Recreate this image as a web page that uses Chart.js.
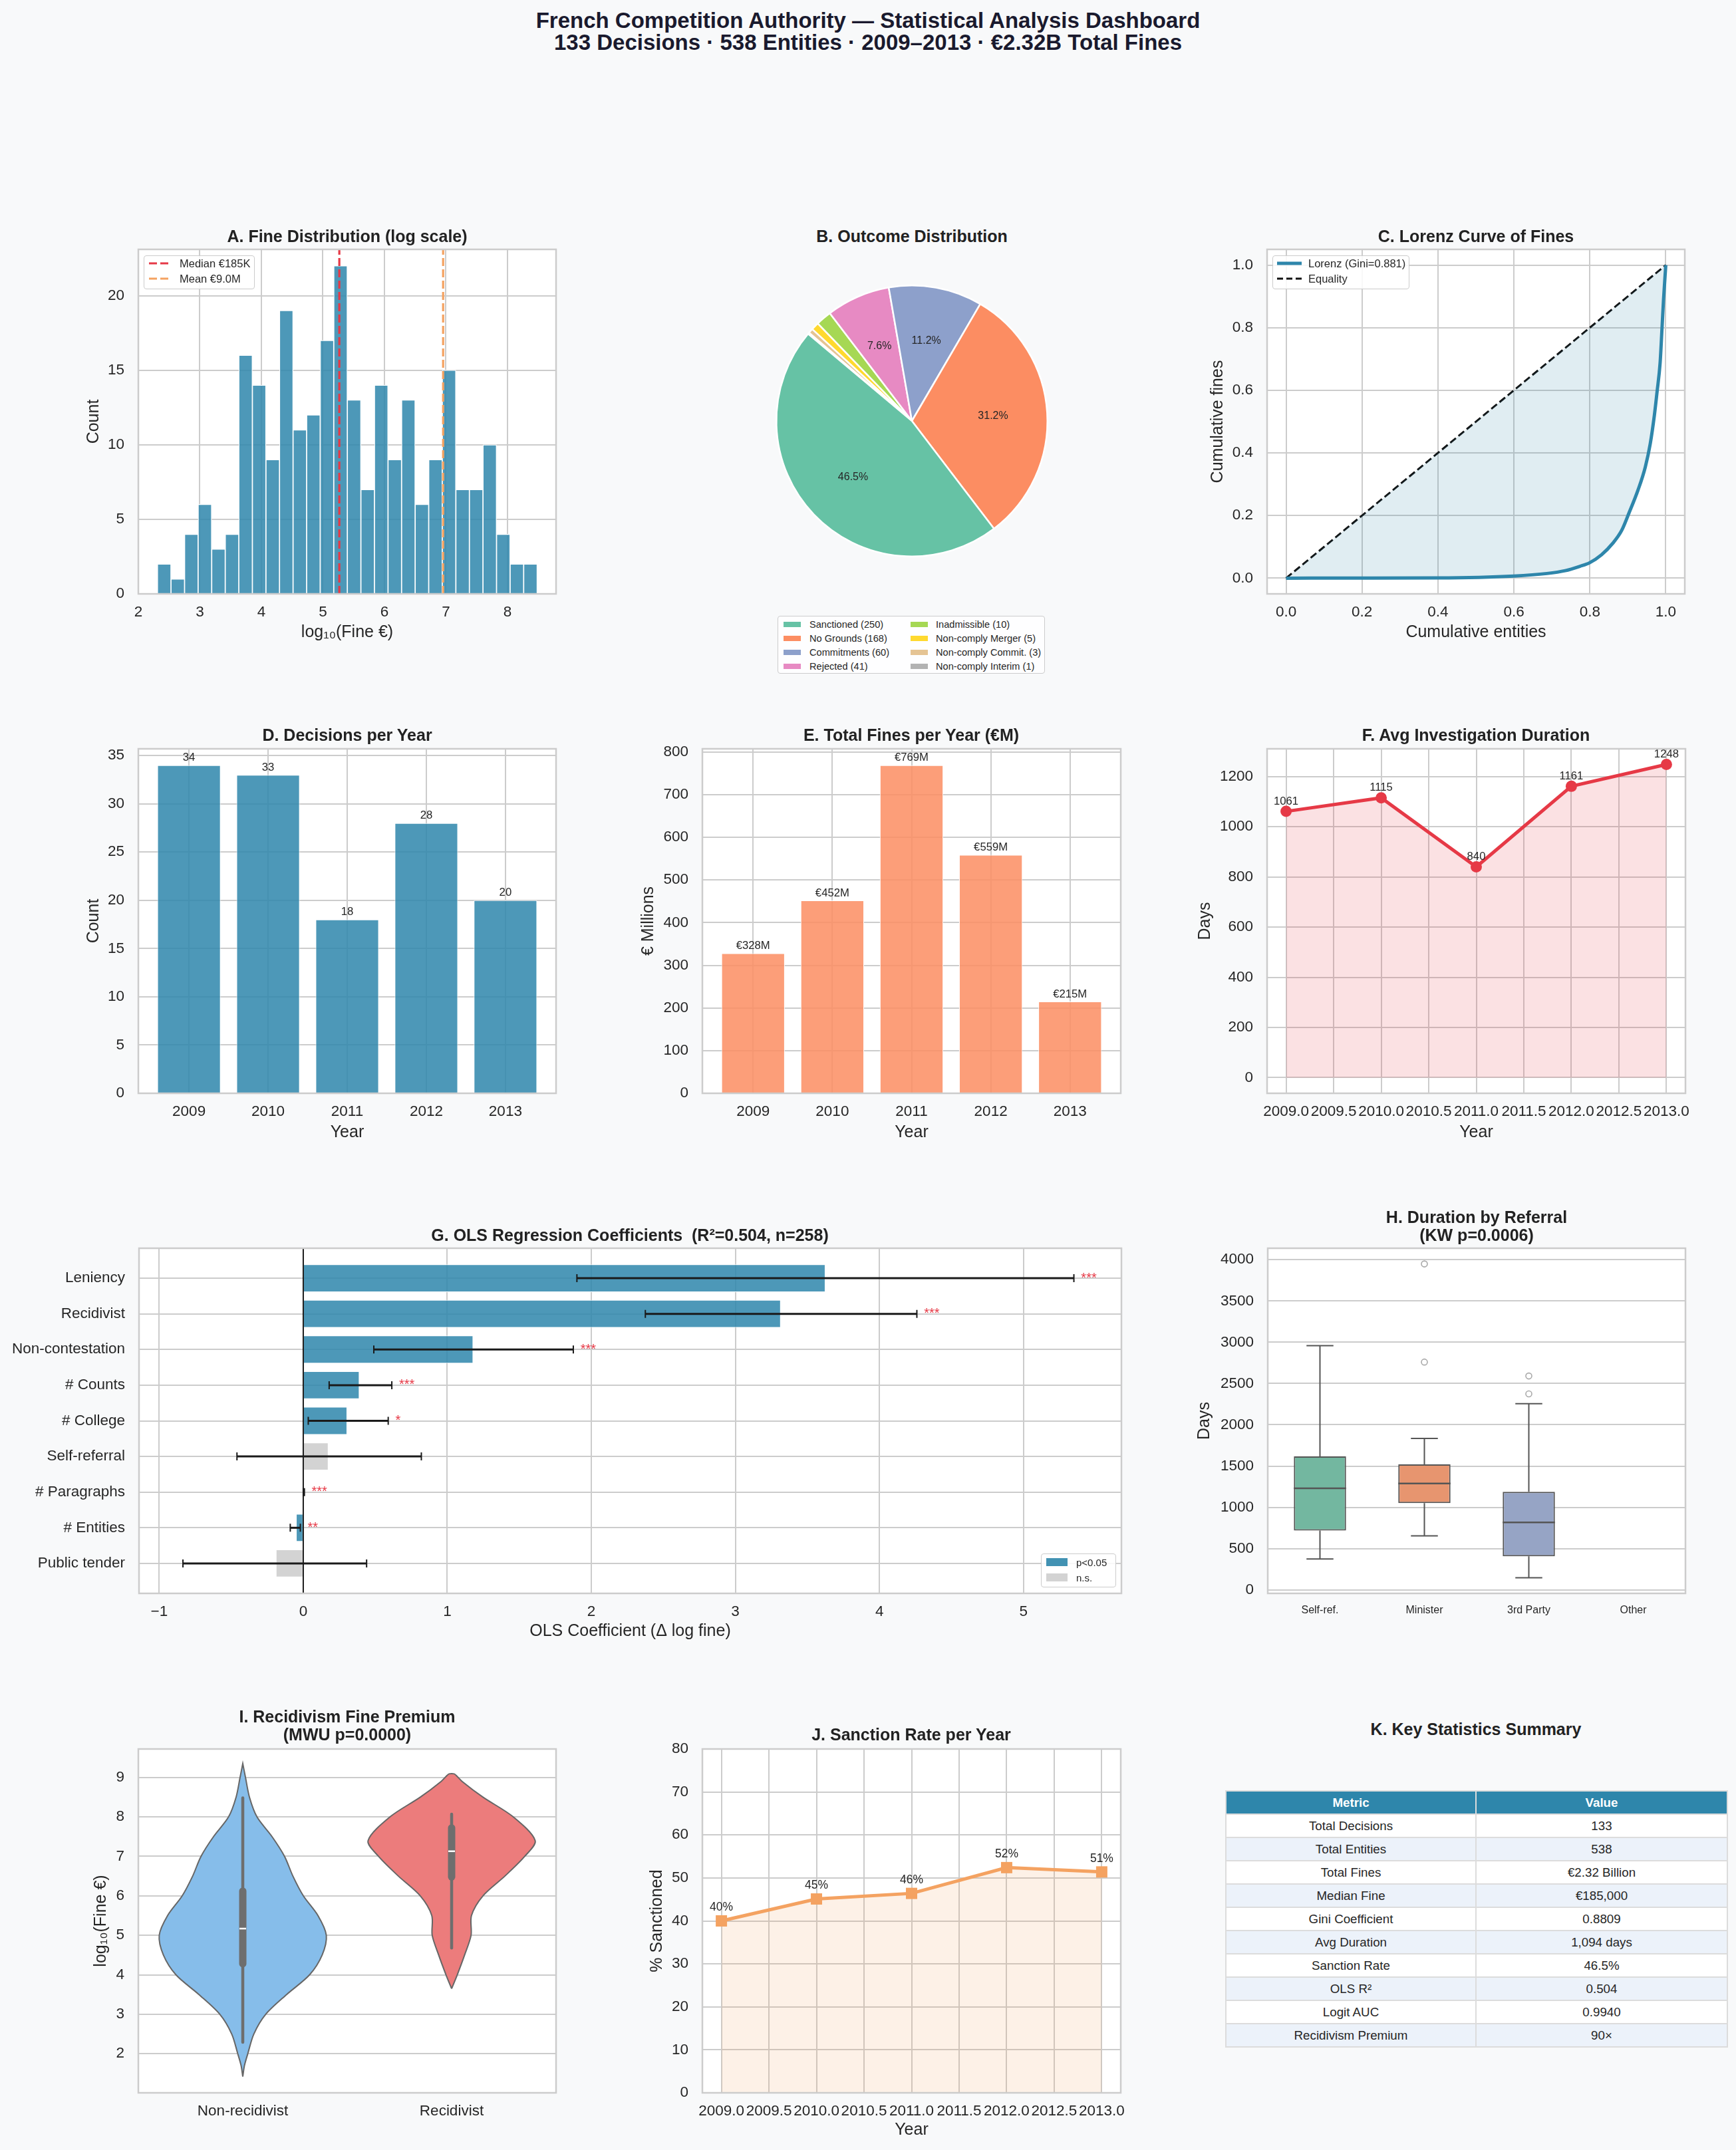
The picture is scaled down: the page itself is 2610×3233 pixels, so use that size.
<!DOCTYPE html>
<html><head><meta charset="utf-8">
<script src="https://cdn.jsdelivr.net/npm/chart.js@4.4.1/dist/chart.umd.min.js"></script>
<style>
html,body{margin:0;padding:0;}
body{width:2610px;height:3233px;position:relative;overflow:hidden;background:#f8f9fa;font-family:'Liberation Sans',Arial,Helvetica,sans-serif;color:#262626;}
canvas{position:absolute;z-index:1;}
.ttl{position:absolute;z-index:2;font-weight:bold;font-size:25px;line-height:27px;text-align:center;white-space:nowrap;transform:translate(-50%,-50%);color:#222;}
.main{position:absolute;z-index:2;left:1305px;top:47px;transform:translate(-50%,-50%);font-weight:bold;font-size:33px;line-height:33px;text-align:center;white-space:nowrap;color:#1a1a2e;}
.leg{position:absolute;z-index:3;box-sizing:border-box;background:rgba(255,255,255,0.85);border:1.5px solid #cccccc;border-radius:4px;}
.lt{position:absolute;white-space:nowrap;transform:translateY(-50%);line-height:1;color:#262626;}
.sw{position:absolute;}
#kt{position:absolute;z-index:2;left:1842px;top:2692px;width:754px;border-collapse:collapse;font-size:18.75px;table-layout:fixed;background:#fff;}
#kt tr{height:35px;}
#kt td,#kt th{border:2px solid #dcdcdc;padding:0;text-align:center;color:#262626;}
#kt th{background:#2E86AB;color:#fff;font-weight:bold;}
#kt tr.alt td{background:#ECF2FA;}
</style></head><body>
<div class="main">French Competition Authority — Statistical Analysis Dashboard<br>133 Decisions · 538 Entities · 2009–2013 · €2.32B Total Fines</div>
<script>
// ================= DATA =================
const histBinStart = 2.31;
const histBinWidth = 0.2205;
const histCounts = [2,1,4,6,3,4,16,14,9,19,11,12,17,22,13,7,14,9,13,6,9,15,7,7,10,4,2,2];
const medianLogFine = 5.267;   // €185K
const meanLogFine = 6.954;     // €9.0M

const outcomeLabels = ['Sanctioned','No Grounds','Commitments','Rejected','Inadmissible','Non-comply Merger','Non-comply Commit.','Non-comply Interim'];
const outcomeCounts = [250,168,60,41,10,5,3,1];
const outcomeColors = ['#66c2a5','#fc8d62','#8da0cb','#e78ac3','#a6d854','#ffd92f','#e5c494','#b3b3b3'];

const lorenzX = [0,0.2,0.4,0.6,0.687,0.735,0.774,0.799,0.831,0.86,0.884,0.903,0.927,0.946,0.959,0.97,0.977,0.985,0.99,0.994,1.0];
const lorenzY = [0,0.0005,0.001,0.007,0.015,0.024,0.038,0.049,0.075,0.111,0.153,0.208,0.282,0.355,0.429,0.521,0.595,0.687,0.797,0.889,1.0];
const giniCoef = 0.881;

const years = [2009,2010,2011,2012,2013];
const decisionsPerYear = [34,33,18,28,20];
const finesPerYearM = [328,452,769,559,215];
const avgDurationDays = [1061,1115,840,1161,1248];
const sanctionRatePct = [40.0,45.1,46.4,52.4,51.4];

const olsVars = ['Leniency','Recidivist','Non-contestation','# Counts','# College','Self-referral','# Paragraphs','# Entities','Public tender'];
const olsCoef = [3.625,3.315,1.18,0.39,0.305,0.175,0.004,-0.05,-0.19];
const olsCiLow = [1.9,2.375,0.49,0.18,0.035,-0.46,0.0,-0.09,-0.835];
const olsCiHigh = [5.35,4.26,1.875,0.615,0.59,0.82,0.008,-0.02,0.44];
const olsStars = ['***','***','***','***','*','','***','**',''];
const olsSignificant = [true,true,true,true,true,false,true,true,false];

const referralCats = ['Self-ref.','Minister','3rd Party','Other'];
const boxWhiskerLow = [374,655,147,null];
const boxQ1 = [719,1051,406,null];
const boxMedian = [1230,1288,818,null];
const boxQ3 = [1617,1521,1188,null];
const boxWhiskerHigh = [2958,1834,2256,null];
const boxColors = ['#73b7a0','#e7956f','#96a4c5','#cccccc'];
const outlierCats = ['Minister','Minister','3rd Party','3rd Party'];
const outlierDays = [2760,3949,2374,2591];

const violinGroups = ['Non-recidivist','Recidivist'];
const violinNonRecY = [1.42,1.7,2.0,2.5,3.0,3.5,4.0,4.5,5.0,5.5,6.0,6.5,7.0,7.5,8.0,8.5,9.0,9.35];
const violinNonRecHalfWidth = [0,0.008,0.024,0.053,0.11,0.21,0.32,0.38,0.40,0.36,0.29,0.24,0.20,0.14,0.068,0.032,0.013,0];
const violinRecY = [3.65,4.0,4.5,5.0,5.5,6.0,6.5,7.0,7.4,8.0,8.5,8.9,9.05,9.09];
const violinRecHalfWidth = [0,0.027,0.062,0.093,0.095,0.15,0.255,0.35,0.40,0.295,0.15,0.05,0.022,0.012];
const violinWhiskLow = [2.29,4.68];
const violinQ1 = [4.28,6.48];
const violinMedian = [5.17,7.13];
const violinQ3 = [6.12,7.72];
const violinWhiskHigh = [8.48,8.07];
const violinColors = ['rgb(134,189,234)','rgb(236,124,124)'];

const tableMetrics = ['Total Decisions','Total Entities','Total Fines','Median Fine','Gini Coefficient','Avg Duration','Sanction Rate','OLS R²','Logit AUC','Recidivism Premium'];
const tableValues = ['133','538','€2.32 Billion','€185,000','0.8809','1,094 days','46.5%','0.504','0.9940','90×'];

// ================= HELPERS =================
const FONT = "'Liberation Sans', Arial, Helvetica, sans-serif";
Chart.defaults.font.family = FONT;
Chart.defaults.color = '#262626';
const GRID = '#cccccc';
const PAD_T = 50, PAD_R = 40;

const framePlugin = {
  id: 'frame',
  beforeDraw(chart) {
    const a = chart.chartArea, c = chart.ctx;
    c.save(); c.fillStyle = '#ffffff';
    c.fillRect(a.left, a.top, a.right - a.left, a.bottom - a.top); c.restore();
  },
  afterDraw(chart) {
    const a = chart.chartArea, c = chart.ctx;
    c.save(); c.strokeStyle = '#cccccc'; c.lineWidth = 2.5;
    c.strokeRect(a.left, a.top, a.right - a.left, a.bottom - a.top); c.restore();
  }
};
const valueLabels = {
  id: 'valueLabels',
  afterDatasetsDraw(chart, args, o) {
    if (!o || !o.texts) return;
    const meta = chart.getDatasetMeta(o.ds || 0), c = chart.ctx;
    c.save(); c.font = (o.size || 16.7) + 'px ' + FONT; c.fillStyle = '#262626';
    c.textAlign = 'center'; c.textBaseline = 'middle';
    meta.data.forEach((el, i) => c.fillText(o.texts[i], el.x, el.y - o.dy));
    c.restore();
  }
};

function mkCanvas(R) {
  const left = R.yTitleX != null ? Math.round(R.yTitleX - 19) : R.l - R.padL;
  const top = R.t - PAD_T, right = R.r + PAD_R;
  const bottom = R.xTitleY != null ? Math.round(R.xTitleY + 19) : R.b + R.padB;
  const cv = document.createElement('canvas');
  cv.width = right - left; cv.height = bottom - top;
  cv.style.left = left + 'px'; cv.style.top = top + 'px';
  cv.style.width = cv.width + 'px'; cv.style.height = cv.height + 'px';
  document.body.appendChild(cv);
  return {cv, yW: R.l - left, xH: bottom - R.b};
}
function scale(o) {
  const s = {
    type: o.type || 'linear', offset: !!o.offset, reverse: !!o.reverse,
    grid: {display: o.grid !== false, color: GRID, lineWidth: 2, drawTicks: false, offset: !!o.offset},
    border: {display: false},
    ticks: {font: {size: o.fontSize || 22.5}, color: '#262626', padding: o.pad, autoSkip: false, maxRotation: 0, minRotation: 0},
    title: o.title ? {display: true, text: o.title, font: {size: 25}, color: '#262626', padding: {top: 4, bottom: 4}} : {display: false}
  };
  if (o.min !== undefined) s.min = o.min;
  if (o.max !== undefined) s.max = o.max;
  if (o.fmt) s.ticks.callback = o.fmt;
  if (o.ticks) s.afterBuildTicks = sc => { sc.ticks = o.ticks.map(v => ({value: v})); };
  if (o.w !== undefined) s.afterFit = sc => { sc.width = o.w; };
  if (o.h !== undefined) s.afterFit = sc => { sc.height = o.h; };
  return s;
}
function opts(scales, plug, extra) {
  return Object.assign({
    responsive: false, animation: false, devicePixelRatio: 1, events: [],
    layout: {padding: {top: PAD_T, right: PAD_R, left: 0, bottom: 0}},
    scales,
    plugins: Object.assign({legend: {display: false}, tooltip: {enabled: false}}, plug || {})
  }, extra || {});
}
function title(text, x, y) {
  const d = document.createElement('div'); d.className = 'ttl';
  d.innerHTML = text; d.style.left = x + 'px'; d.style.top = y + 'px';
  document.body.appendChild(d);
}
function legendBox(x, y, w, h) {
  const d = document.createElement('div'); d.className = 'leg';
  Object.assign(d.style, {left: x + 'px', top: y + 'px', width: w + 'px', height: h + 'px'});
  document.body.appendChild(d); return d;
}
function legText(box, x, y, text, size) {
  const s = document.createElement('div'); s.className = 'lt';
  s.textContent = text; s.style.left = x + 'px'; s.style.top = y + 'px'; s.style.fontSize = size + 'px';
  box.appendChild(s);
}
function legLine(box, x1, x2, y, color, w, dash) {
  const ns = 'http://www.w3.org/2000/svg';
  const svg = document.createElementNS(ns, 'svg');
  svg.setAttribute('width', x2 + 4); svg.setAttribute('height', y + 6);
  svg.style.position = 'absolute'; svg.style.left = '0'; svg.style.top = '0';
  const l = document.createElementNS(ns, 'line');
  l.setAttribute('x1', x1); l.setAttribute('x2', x2); l.setAttribute('y1', y); l.setAttribute('y2', y);
  l.setAttribute('stroke', color); l.setAttribute('stroke-width', w);
  if (dash) l.setAttribute('stroke-dasharray', dash);
  svg.appendChild(l); box.appendChild(svg);
}
function legRect(box, x, y, w, h, color) {
  const d = document.createElement('div'); d.className = 'sw';
  Object.assign(d.style, {left: x + 'px', top: (y - h / 2) + 'px', width: w + 'px', height: h + 'px', background: color});
  box.appendChild(d);
}
const intFmt = v => String(v);

// ================= A. Histogram =================
(function () {
  const R = {l: 208, t: 375, r: 836, b: 893, yTitleX: 141, xTitleY: 951};
  const c = mkCanvas(R); const yMax = 23.1;
  new Chart(c.cv, {
    type: 'bar',
    data: {datasets: [
      {type: 'bar', order: 2, data: histCounts.map((v, i) => ({x: histBinStart + histBinWidth * (i + 0.5), y: v})),
       backgroundColor: 'rgba(46,134,171,0.85)', borderColor: '#ffffff', borderWidth: 1.2, barPercentage: 1, categoryPercentage: 1},
      {type: 'line', order: 0, data: [{x: medianLogFine, y: 0}, {x: medianLogFine, y: yMax}], borderColor: '#E63946', borderWidth: 3.2, borderDash: [12, 5], pointRadius: 0},
      {type: 'line', order: 0, data: [{x: meanLogFine, y: 0}, {x: meanLogFine, y: yMax}], borderColor: '#F4A261', borderWidth: 3.2, borderDash: [12, 5], pointRadius: 0}
    ]},
    options: opts({
      x: scale({min: 2, max: 8.79, ticks: [2,3,4,5,6,7,8], fmt: intFmt, title: 'log₁₀(Fine €)', pad: 14, h: c.xH}),
      y: scale({min: 0, max: yMax, ticks: [0,5,10,15,20], fmt: intFmt, title: 'Count', pad: 21, w: c.yW})
    }),
    plugins: [framePlugin]
  });
  title('A. Fine Distribution (log scale)', 522, 355);
  const lb = legendBox(216, 384, 167, 51);
  legLine(lb, 7, 41, 11, '#E63946', 3.2, '12,5'); legText(lb, 53, 11, 'Median €185K', 16.5);
  legLine(lb, 7, 41, 34, '#F4A261', 3.2, '12,5'); legText(lb, 53, 34, 'Mean €9.0M', 16.5);
})();

// ================= B. Pie =================
(function () {
  const cv = document.createElement('canvas');
  cv.width = 420; cv.height = 420;
  cv.style.left = '1161px'; cv.style.top = '423px'; cv.style.width = '420px'; cv.style.height = '420px';
  document.body.appendChild(cv);
  const total = outcomeCounts.reduce((a, b) => a + b, 0);
  const pct = {
    id: 'pct',
    afterDatasetsDraw(chart) {
      const meta = chart.getDatasetMeta(0), c = chart.ctx, data = chart.data.datasets[0].data;
      c.save(); c.font = '16px ' + FONT; c.fillStyle = '#262626'; c.textAlign = 'center'; c.textBaseline = 'middle';
      meta.data.forEach((arc, i) => {
        const p = data[i] / total * 100; if (p < 3) return;
        const mid = (arc.startAngle + arc.endAngle) / 2, r = arc.outerRadius * 0.6;
        c.fillText(p.toFixed(1) + '%', arc.x + r * Math.cos(mid), arc.y + r * Math.sin(mid));
      });
      c.restore();
    }
  };
  new Chart(cv, {
    type: 'pie',
    data: {labels: [...outcomeLabels].reverse(), datasets: [{data: [...outcomeCounts].reverse(), backgroundColor: [...outcomeColors].reverse(), borderColor: '#ffffff', borderWidth: 2.5, hoverOffset: 0}]},
    options: {responsive: false, animation: false, devicePixelRatio: 1, events: [], rotation: -50, layout: {padding: 5},
      plugins: {legend: {display: false}, tooltip: {enabled: false}}},
    plugins: [pct]
  });
  title('B. Outcome Distribution', 1371, 355);
  const lb = legendBox(1169, 926, 402, 87);
  const rows = [12, 33, 54, 75];
  outcomeLabels.forEach((lab, i) => {
    const col = i < 4 ? 0 : 1, row = i % 4;
    const sx = col ? 199 : 8, tx = col ? 237 : 47;
    legRect(lb, sx, rows[row], 26, 8, outcomeColors[i]);
    legText(lb, tx, rows[row], lab + ' (' + outcomeCounts[i] + ')', 14.6);
  });
})();

// ================= C. Lorenz =================
(function () {
  const R = {l: 1905, t: 375, r: 2533, b: 893, yTitleX: 1831, xTitleY: 951};
  const c = mkCanvas(R);
  const f1 = v => v.toFixed(1);
  new Chart(c.cv, {
    type: 'line',
    data: {datasets: [
      {data: lorenzX.map((x, i) => ({x, y: lorenzY[i]})), borderColor: '#2E86AB', borderWidth: 5, pointRadius: 0, cubicInterpolationMode: 'monotone',
       fill: {target: 1, above: 'rgba(46,134,171,0.15)', below: 'rgba(46,134,171,0.15)'}},
      {data: [{x: 0, y: 0}, {x: 1, y: 1}], borderColor: '#111111', borderWidth: 3, borderDash: [11, 5], pointRadius: 0, fill: false}
    ]},
    options: opts({
      x: scale({min: -0.05, max: 1.05, ticks: [0,0.2,0.4,0.6,0.8,1.0], fmt: f1, title: 'Cumulative entities', pad: 14, h: c.xH}),
      y: scale({min: -0.05, max: 1.05, ticks: [0,0.2,0.4,0.6,0.8,1.0], fmt: f1, title: 'Cumulative fines', pad: 21, w: c.yW})
    }),
    plugins: [framePlugin]
  });
  title('C. Lorenz Curve of Fines', 2219, 355);
  const lb = legendBox(1913, 384, 206, 51);
  legLine(lb, 6, 43, 11, '#2E86AB', 5, null); legText(lb, 53, 11, 'Lorenz (Gini=' + giniCoef.toFixed(3) + ')', 16.5);
  legLine(lb, 6, 43, 34, '#111111', 3, '9,5'); legText(lb, 53, 34, 'Equality', 16.5);
})();

// ================= D. Decisions per year =================
(function () {
  const R = {l: 208, t: 1126, r: 836, b: 1644, yTitleX: 141, xTitleY: 1703};
  const c = mkCanvas(R);
  new Chart(c.cv, {
    type: 'bar',
    data: {datasets: [{data: years.map((y, i) => ({x: y, y: decisionsPerYear[i]})), backgroundColor: 'rgba(46,134,171,0.85)', borderColor: '#ffffff', borderWidth: 1, barPercentage: 0.8, categoryPercentage: 1}]},
    options: opts({
      x: scale({min: 2008.36, max: 2013.64, ticks: years, fmt: intFmt, title: 'Year', pad: 14, h: c.xH}),
      y: scale({min: 0, max: 35.7, ticks: [0,5,10,15,20,25,30,35], fmt: intFmt, title: 'Count', pad: 21, w: c.yW})
    }, {valueLabels: {texts: decisionsPerYear.map(String), dy: 11, size: 16.7}}),
    plugins: [framePlugin, valueLabels]
  });
  title('D. Decisions per Year', 522, 1105);
})();

// ================= E. Fines per year =================
(function () {
  const R = {l: 1056, t: 1126, r: 1685, b: 1644, yTitleX: 975, xTitleY: 1703};
  const c = mkCanvas(R);
  new Chart(c.cv, {
    type: 'bar',
    data: {datasets: [{data: years.map((y, i) => ({x: y, y: finesPerYearM[i]})), backgroundColor: 'rgba(252,141,98,0.85)', borderColor: '#ffffff', borderWidth: 1, barPercentage: 0.8, categoryPercentage: 1}]},
    options: opts({
      x: scale({min: 2008.36, max: 2013.64, ticks: years, fmt: intFmt, title: 'Year', pad: 14, h: c.xH}),
      y: scale({min: 0, max: 807.45, ticks: [0,100,200,300,400,500,600,700,800], fmt: intFmt, title: '€ Millions', pad: 21, w: c.yW})
    }, {valueLabels: {texts: finesPerYearM.map(v => '€' + v + 'M'), dy: 11, size: 16.7}}),
    plugins: [framePlugin, valueLabels]
  });
  title('E. Total Fines per Year (€M)', 1370, 1105);
})();

// ================= F. Avg duration =================
(function () {
  const R = {l: 1905, t: 1126, r: 2534, b: 1644, yTitleX: 1812, xTitleY: 1703};
  const c = mkCanvas(R);
  new Chart(c.cv, {
    type: 'line',
    data: {datasets: [{data: years.map((y, i) => ({x: y, y: avgDurationDays[i]})), borderColor: '#E63946', borderWidth: 5, pointRadius: 8.5, pointBackgroundColor: '#E63946', pointBorderWidth: 0,
      fill: 'origin', backgroundColor: 'rgba(230,57,70,0.15)', tension: 0}]},
    options: opts({
      x: scale({min: 2008.8, max: 2013.2, ticks: [2009,2009.5,2010,2010.5,2011,2011.5,2012,2012.5,2013], fmt: v => v.toFixed(1), title: 'Year', pad: 14, h: c.xH}),
      y: scale({min: -62.4, max: 1310.4, ticks: [0,200,400,600,800,1000,1200], fmt: intFmt, title: 'Days', pad: 21, w: c.yW})
    }, {valueLabels: {texts: avgDurationDays.map(String), dy: 15, size: 16.7}}),
    plugins: [framePlugin, valueLabels]
  });
  title('F. Avg Investigation Duration', 2219, 1105);
})();

// ================= G. OLS coefficients =================
(function () {
  const R = {l: 209, t: 1877, r: 1686, b: 2396, padL: 209, xTitleY: 2453};
  const c = mkCanvas(R);
  const err = {
    id: 'err',
    afterDatasetsDraw(chart) {
      const xs = chart.scales.x, ys = chart.scales.y, cx = chart.ctx;
      cx.save();
      olsCoef.forEach((v, i) => {
        const y = ys.getPixelForValue(i), x1 = xs.getPixelForValue(olsCiLow[i]), x2 = xs.getPixelForValue(olsCiHigh[i]);
        cx.strokeStyle = '#1a1a1a'; cx.lineWidth = 3;
        cx.beginPath(); cx.moveTo(x1, y); cx.lineTo(x2, y); cx.stroke();
        cx.lineWidth = 2; cx.beginPath();
        cx.moveTo(x1, y - 6); cx.lineTo(x1, y + 6); cx.moveTo(x2, y - 6); cx.lineTo(x2, y + 6); cx.stroke();
        if (olsStars[i]) {
          cx.font = '20px ' + FONT; cx.fillStyle = '#E63946'; cx.textAlign = 'left'; cx.textBaseline = 'middle';
          cx.fillText(olsStars[i], xs.getPixelForValue(olsCiHigh[i] + 0.05), y);
        }
      });
      cx.restore();
    }
  };
  new Chart(c.cv, {
    type: 'bar',
    data: {datasets: [
      {type: 'bar', order: 1, data: olsCoef.map((v, i) => ({x: v, y: i})), backgroundColor: olsSignificant.map(s => s ? 'rgba(46,134,171,0.85)' : '#d3d3d3'),
       borderColor: '#ffffff', borderWidth: 1, barPercentage: 0.78, categoryPercentage: 1},
      {type: 'line', order: 0, data: [{x: 0, y: -0.84}, {x: 0, y: 8.84}], borderColor: '#000000', borderWidth: 1.7, pointRadius: 0}
    ]},
    options: opts({
      x: scale({min: -1.14, max: 5.68, ticks: [-1,0,1,2,3,4,5], fmt: v => v < 0 ? '−' + (-v) : String(v), title: 'OLS Coefficient (Δ log fine)', pad: 14, h: c.xH}),
      y: scale({min: -0.84, max: 8.84, reverse: true, ticks: [0,1,2,3,4,5,6,7,8], fmt: v => olsVars[v], pad: 21, w: c.yW})
    }, null, {indexAxis: 'y'}),
    plugins: [framePlugin, err]
  });
  title('G. OLS Regression Coefficients&nbsp;&nbsp;(R²=0.504, n=258)', 947, 1857);
  const lb = legendBox(1565, 2336, 113, 51);
  legRect(lb, 7, 12, 32, 12, 'rgba(46,134,171,0.9)'); legText(lb, 52, 12, 'p<0.05', 15);
  legRect(lb, 7, 35, 32, 12, '#d3d3d3'); legText(lb, 52, 35, 'n.s.', 15);
})();

// ================= H. Boxplot =================
(function () {
  const R = {l: 1906, t: 1877, r: 2534, b: 2396, yTitleX: 1811, padB: 48};
  const c = mkCanvas(R);
  const whisk = {
    id: 'whisk',
    afterDatasetsDraw(chart) {
      const xs = chart.scales.x, ys = chart.scales.y, cx = chart.ctx;
      const step = xs.getPixelForValue(1) - xs.getPixelForValue(0);
      const p = v => ys.getPixelForValue(v);
      cx.save(); cx.strokeStyle = '#555555';
      referralCats.forEach((cat, i) => {
        if (boxQ1[i] == null) return;
        const x = xs.getPixelForValue(i), cw = step * 0.129, bw = step * 0.25;
        cx.lineWidth = 2; cx.beginPath();
        cx.moveTo(x, p(boxQ1[i])); cx.lineTo(x, p(boxWhiskerLow[i]));
        cx.moveTo(x, p(boxQ3[i])); cx.lineTo(x, p(boxWhiskerHigh[i]));
        cx.moveTo(x - cw, p(boxWhiskerLow[i])); cx.lineTo(x + cw, p(boxWhiskerLow[i]));
        cx.moveTo(x - cw, p(boxWhiskerHigh[i])); cx.lineTo(x + cw, p(boxWhiskerHigh[i]));
        cx.stroke();
        cx.lineWidth = 2.5; cx.beginPath(); cx.moveTo(x - bw, p(boxMedian[i])); cx.lineTo(x + bw, p(boxMedian[i])); cx.stroke();
      });
      cx.restore();
    }
  };
  new Chart(c.cv, {
    type: 'bar',
    data: {labels: referralCats, datasets: [
      {type: 'bar', data: referralCats.map((_, i) => boxQ1[i] == null ? null : [boxQ1[i], boxQ3[i]]), backgroundColor: boxColors,
       borderColor: '#555555', borderWidth: 2, borderSkipped: false, barPercentage: 0.5, categoryPercentage: 1},
      {type: 'scatter', data: outlierCats.map((cat, i) => ({x: cat, y: outlierDays[i]})), pointRadius: 4.5, pointBorderColor: '#aaaaaa',
       pointBackgroundColor: 'rgba(0,0,0,0)', pointBorderWidth: 1.6}
    ]},
    options: opts({
      x: scale({type: 'category', offset: true, grid: false, fontSize: 16, pad: 16, h: c.xH}),
      y: scale({min: -43, max: 4139, ticks: [0,500,1000,1500,2000,2500,3000,3500,4000], fmt: intFmt, title: 'Days', pad: 21, w: c.yW})
    }),
    plugins: [framePlugin, whisk]
  });
  title('H. Duration by Referral<br>(KW p=0.0006)', 2220, 1843.5);
})();

// ================= I. Violin =================
(function () {
  const R = {l: 208, t: 2630, r: 836, b: 3147, yTitleX: 152, padB: 50};
  const c = mkCanvas(R);
  function poly(cx, ys, hw) {
    const pts = [];
    for (let i = 0; i < ys.length; i++) pts.push({x: cx - hw[i], y: ys[i]});
    for (let i = ys.length - 1; i >= 0; i--) pts.push({x: cx + hw[i], y: ys[i]});
    return pts;
  }
  const inner = {
    id: 'inner',
    afterDatasetsDraw(chart) {
      const xs = chart.scales.x, ys = chart.scales.y, cx = chart.ctx;
      cx.save();
      violinGroups.forEach((g, i) => {
        const x = xs.getPixelForValue(i), p = v => ys.getPixelForValue(v);
        cx.strokeStyle = '#6e6e6e'; cx.lineCap = 'round';
        cx.lineWidth = 4.5; cx.beginPath(); cx.moveTo(x, p(violinWhiskLow[i])); cx.lineTo(x, p(violinWhiskHigh[i])); cx.stroke();
        cx.lineWidth = 11; cx.beginPath(); cx.moveTo(x, p(violinQ1[i])); cx.lineTo(x, p(violinQ3[i])); cx.stroke();
        cx.strokeStyle = '#ffffff'; cx.lineCap = 'butt'; cx.lineWidth = 2.5;
        cx.beginPath(); cx.moveTo(x - 5, p(violinMedian[i])); cx.lineTo(x + 5, p(violinMedian[i])); cx.stroke();
      });
      cx.restore();
    }
  };
  new Chart(c.cv, {
    type: 'line',
    data: {datasets: [
      {data: poly(0, violinNonRecY, violinNonRecHalfWidth), fill: 'shape', backgroundColor: violinColors[0], borderColor: '#666666', borderWidth: 2, pointRadius: 0, tension: 0.3},
      {data: poly(1, violinRecY, violinRecHalfWidth), fill: 'shape', backgroundColor: violinColors[1], borderColor: '#666666', borderWidth: 2, pointRadius: 0, tension: 0.3}
    ]},
    options: opts({
      x: scale({min: -0.5, max: 1.5, ticks: [0, 1], fmt: v => violinGroups[v], grid: false, pad: 14, h: c.xH}),
      y: scale({min: 1.01, max: 9.72, ticks: [2,3,4,5,6,7,8,9], fmt: intFmt, title: 'log₁₀(Fine €)', pad: 21, w: c.yW})
    }),
    plugins: [framePlugin, inner]
  });
  title('I. Recidivism Fine Premium<br>(MWU p=0.0000)', 522, 2595);
})();

// ================= J. Sanction rate =================
(function () {
  const R = {l: 1056, t: 2630, r: 1685, b: 3147, yTitleX: 988, xTitleY: 3203};
  const c = mkCanvas(R);
  new Chart(c.cv, {
    type: 'line',
    data: {datasets: [{data: years.map((y, i) => ({x: y, y: sanctionRatePct[i]})), borderColor: '#F4A261', borderWidth: 5, pointStyle: 'rect', pointRadius: 12,
      pointBackgroundColor: '#F4A261', pointBorderWidth: 0, fill: 'origin', backgroundColor: 'rgba(244,162,97,0.15)', tension: 0}]},
    options: opts({
      x: scale({min: 2008.8, max: 2013.2, ticks: [2009,2009.5,2010,2010.5,2011,2011.5,2012,2012.5,2013], fmt: v => v.toFixed(1), title: 'Year', pad: 14, h: c.xH}),
      y: scale({min: 0, max: 80, ticks: [0,10,20,30,40,50,60,70,80], fmt: intFmt, title: '% Sanctioned', pad: 21, w: c.yW})
    }, {valueLabels: {texts: sanctionRatePct.map(v => Math.round(v) + '%'), dy: 20, size: 17.5}}),
    plugins: [framePlugin, valueLabels]
  });
  title('J. Sanction Rate per Year', 1370, 2608);
})();

// ================= K. Table =================
(function () {
  title('K. Key Statistics Summary', 2219, 2600);
  const t = document.createElement('table'); t.id = 'kt';
  let h = '<colgroup><col style="width:376px"><col style="width:378px"></colgroup><tr><th>Metric</th><th>Value</th></tr>';
  tableMetrics.forEach((m, i) => { h += '<tr class="' + (i % 2 ? 'alt' : '') + '"><td>' + m + '</td><td>' + tableValues[i] + '</td></tr>'; });
  t.innerHTML = h; document.body.appendChild(t);
})();
</script>
</body></html>
